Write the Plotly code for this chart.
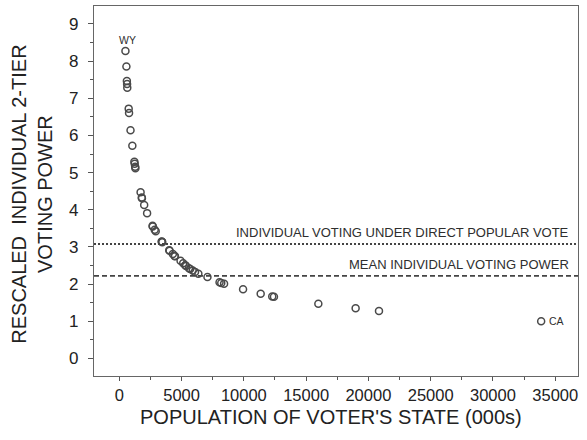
import plotly.graph_objects as go

# State populations (thousands) and rescaled individual two-tier voting power
states = ["WY", "DC", "VT", "AK", "ND", "SD", "DE", "MT", "RI", "HI", "NH", "ME", "ID",
          "NE", "WV", "NM", "NV", "UT", "AR", "KS", "MS", "IA", "CT", "OR", "OK",
          "SC", "KY", "CO", "AL", "LA", "MN", "AZ", "MD", "WI", "MO", "TN", "WA",
          "IN", "MA", "VA", "NC", "GA", "NJ", "MI", "OH", "PA", "IL", "FL", "NY",
          "TX", "CA"]
population = [494, 572, 609, 627, 642, 755, 784, 902, 1048, 1212, 1236, 1275, 1294,
              1711, 1808, 1819, 1998, 2233, 2673, 2688, 2845, 2926, 3406, 3421, 3451,
              4012, 4042, 4301, 4447, 4469, 4919, 5131, 5296, 5364, 5595, 5689, 5894,
              6080, 6349, 7079, 8049, 8186, 8414, 9938, 11353, 12281, 12419, 15982, 18976,
              20852, 33872]
power = [8.27, 7.85, 7.46, 7.38, 7.28, 6.72, 6.60, 6.14, 5.72, 5.29, 5.24, 5.16, 5.12,
         4.47, 4.33, 4.31, 4.13, 3.91, 3.57, 3.55, 3.46, 3.42, 3.15, 3.14, 3.13,
         2.91, 2.90, 2.81, 2.76, 2.75, 2.63, 2.56, 2.51, 2.49, 2.43, 2.41, 2.37,
         2.33, 2.28, 2.19, 2.05, 2.03, 2.01, 1.86, 1.74, 1.67, 1.66, 1.47, 1.35,
         1.28, 1.00]

direct_vote_power = 3.08
mean_power = 2.22

labelled = {"WY": dict(yshift=11, xanchor="center", yanchor="middle", xshift=2),
            "CA": dict(xshift=6, xanchor="left", yanchor="middle", yshift=0)}

font_family = "Liberation Sans, Arial, sans-serif"
ink = "#2e2e2e"

fig = go.Figure()
fig.add_trace(go.Scatter(
    x=population, y=power, mode="markers",
    marker=dict(symbol="circle-open", size=7, color="#4a4a4a",
                line=dict(width=1.5, color="#4a4a4a")),
    hoverinfo="skip", showlegend=False))

# Reference levels
fig.add_shape(type="line", xref="paper", x0=0, x1=1, yref="y",
              y0=direct_vote_power, y1=direct_vote_power,
              line=dict(color="#444", width=2, dash="2px,2px"))
fig.add_shape(type="line", xref="paper", x0=0, x1=1, yref="y",
              y0=mean_power, y1=mean_power,
              line=dict(color="#444", width=1.8, dash="5px,3px"))

fig.add_annotation(text="INDIVIDUAL VOTING UNDER DIRECT POPULAR VOTE",
                   xref="paper", x=0.985, xanchor="right",
                   yref="y", y=direct_vote_power, yanchor="bottom", yshift=2,
                   showarrow=False, font=dict(family=font_family, size=13, color=ink))
fig.add_annotation(text="MEAN INDIVIDUAL VOTING POWER",
                   xref="paper", x=0.985, xanchor="right",
                   yref="y", y=mean_power, yanchor="bottom", yshift=2,
                   showarrow=False, font=dict(family=font_family, size=13, color=ink))

for s, p, v in zip(states, population, power):
    if s in labelled:
        fig.add_annotation(text=s, x=p, y=v, showarrow=False,
                           font=dict(family=font_family, size=10.5, color=ink),
                           **labelled[s])

# Axis titles
fig.add_annotation(text="RESCALED\u00a0 INDIVIDUAL 2-TIER<br>VOTING POWER",
                   xref="paper", x=-0.128, xanchor="center",
                   yref="paper", y=0.49, yanchor="middle",
                   textangle=-90, showarrow=False,
                   font=dict(family=font_family, size=20, color="#222"))
fig.add_annotation(text="POPULATION OF VOTER'S STATE (000s)",
                   xref="paper", x=0.49, xanchor="center",
                   yref="paper", y=-0.112, yanchor="middle",
                   showarrow=False,
                   font=dict(family=font_family, size=20, color="#222"))

axis_common = dict(showgrid=False, zeroline=False, showline=True, linecolor="#666",
                   linewidth=1.2, mirror=True, ticks="outside",
                   tickwidth=1.2, tickcolor="#555")

fig.update_xaxes(range=[-2030, 36830], dtick=5000, tick0=0, tickformat="d",
                 ticklen=4,
                 tickfont=dict(family=font_family, size=16.5, color="#222"),
                 minor=dict(ticks="outside", dtick=2500, ticklen=3, tickcolor="#555"),
                 **axis_common)
fig.update_yaxes(range=[-0.47, 9.48], dtick=1, tick0=0,
                 ticklen=5, ticklabelstandoff=6,
                 tickfont=dict(family=font_family, size=17, color="#222"),
                 minor=dict(ticks="outside", dtick=0.5, ticklen=3, tickcolor="#555"),
                 **axis_common)

fig.update_layout(width=587, height=440,
                  margin=dict(l=94, r=9, t=6, b=64),
                  paper_bgcolor="white", plot_bgcolor="white",
                  font=dict(family=font_family))

fig.write_html("out.html")
